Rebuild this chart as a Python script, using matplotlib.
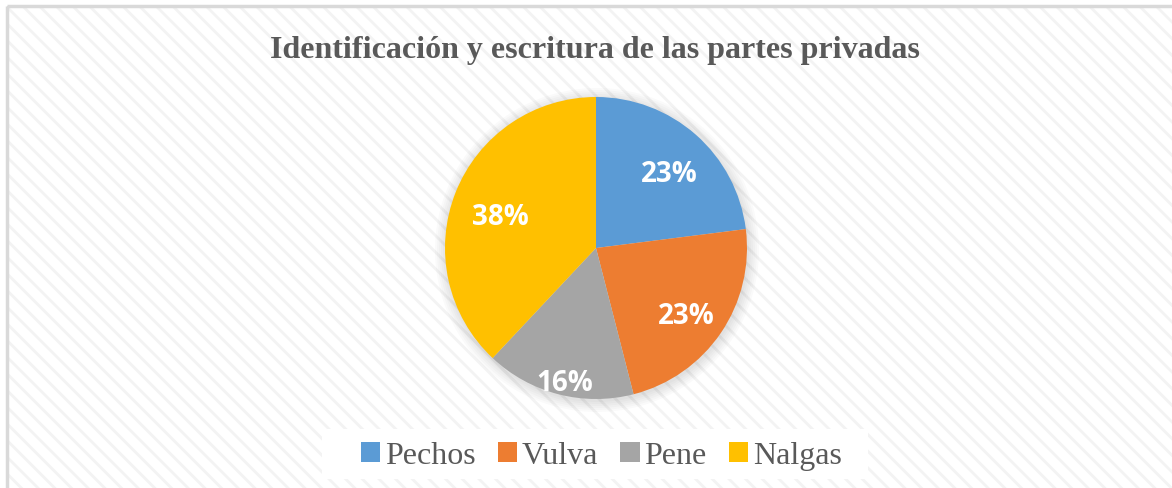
import numpy as np
import matplotlib.pyplot as plt
from matplotlib.patches import Rectangle, Circle

# data
labels = ['Pechos', 'Vulva', 'Pene', 'Nalgas']
values = [23, 23, 16, 38]
colors = ['#5B9BD5', '#ED7D31', '#A5A5A5', '#FFC000']
title = 'Identificación y escritura de las partes privadas'

plt.rcParams['hatch.linewidth'] = 2.0

fig = plt.figure(figsize=(11.72, 4.89), dpi=100)

# hatched background with border
bg = fig.add_axes([0, 0, 1, 1])
bg.set_xlim(0, 1172)
bg.set_ylim(489, 0)
bg.axis('off')
bg.add_patch(Rectangle((7, 7), 1170, 490, facecolor='white', edgecolor='none', zorder=0))
bg.add_patch(Rectangle((7, 7), 1170, 490, facecolor='none', edgecolor='#F3F3F3',
                       linewidth=0, hatch='\\\\', zorder=0.5))
bg.add_patch(Rectangle((7, 7), 1170, 490, facecolor='none', edgecolor='#D9D9D9',
                       linewidth=2.5, zorder=0.6))

# soft shadow under the pie
for i in range(6):
    bg.add_patch(Circle((597, 251), 151 + 1 + i * 2, facecolor='#000000',
                        alpha=0.02, edgecolor='none', zorder=1))

fig.text(0.508, 0.897, title, ha='center', va='center', fontsize=23,
         fontweight='bold', family='Liberation Serif', color='#595959')

# pie axes: center (596, 249), radius 151 px
r = 151
ax = fig.add_axes([(596 - r) / 1172, 1 - (249 + r) / 489, 2 * r / 1172, 2 * r / 489])
wedges, texts, autotexts = ax.pie(values, colors=colors, startangle=90, counterclock=False,
                                  autopct='%1.0f%%', pctdistance=0.7,
                                  wedgeprops=dict(edgecolor='none'),
                                  textprops=dict(color='white', fontsize=20, fontweight='bold',
                                                 family='Open Sans'))
ax.set_aspect('auto')
ax.set_xlim(-1, 1)
ax.set_ylim(-1, 1)

# label distances (fraction of radius), Excel "best fit"-like
dists = [0.72, 0.71, 0.87, 0.69]
for w, t, d in zip(wedges, autotexts, dists):
    ang = np.deg2rad((w.theta1 + w.theta2) / 2)
    t.set_position((d * np.cos(ang) + 0.01, d * np.sin(ang) - 0.045))

# legend
bg.add_patch(Rectangle((322, 430), 546, 50, facecolor='white', edgecolor='none', zorder=2))
leg = fig.legend(wedges, labels, loc='center', bbox_to_anchor=(0.513, 0.066), ncol=4,
                 frameon=False, handlelength=0.6, handleheight=0.6, handletextpad=0.15,
                 columnspacing=0.7, prop=dict(family='Liberation Serif', size=23))
for t in leg.get_texts():
    t.set_color('#595959')

fig.savefig('out.png', dpi=100)
